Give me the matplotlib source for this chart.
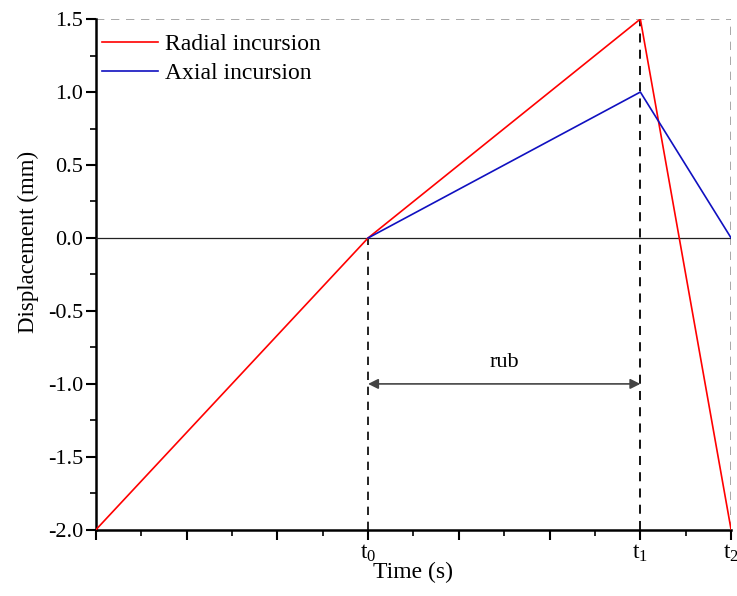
import matplotlib
matplotlib.use('Agg')
import matplotlib.pyplot as plt

plt.rcParams['font.family'] = ['Liberation Serif', 'DejaVu Serif']
plt.rcParams['mathtext.fontset'] = 'custom'
plt.rcParams['mathtext.rm'] = 'Liberation Serif'
plt.rcParams['mathtext.it'] = 'Liberation Serif:italic'

# time points (t0, t1, t2 on a 0..7 scale)
t0, t1, t2 = 3, 6, 7
radial_t = [0, t0, t1, t2]
radial_d = [-2.0, 0.0, 1.5, -2.0]
axial_t = [t0, t1, t2]
axial_d = [0.0, 1.0, 0.0]
tick_pos = [t0, t1, t2]
tick_labels = [r'$\mathrm{t}_0$', r'$\mathrm{t}_1$', r'$\mathrm{t}_2$']
yticks = [-2.0, -1.5, -1.0, -0.5, 0.0, 0.5, 1.0, 1.5]
ymin, ymax = -2.0, 1.5

fig = plt.figure(figsize=(7.37, 5.96), dpi=100)
ax = fig.add_axes([0.130, 0.111, 0.862, 0.857])

ax.plot(radial_t, radial_d, color='#ff0000', lw=1.2, label='Radial incursion', zorder=4)
ax.plot(axial_t, axial_d, color='#1010c0', lw=1.2, label='Axial incursion', zorder=4)

# zero line and guides
ax.plot([0, t2], [0, 0], color='#222222', lw=0.9, zorder=3)
ax.plot([t0, t0], [ymin, 0], color='black', lw=1.2, ls=(0, (5, 4)), zorder=2)
ax.plot([t1, t1], [ymin, ymax], color='black', lw=1.3, ls=(0, (5, 4)), zorder=2)
ax.plot([0, t2], [ymax, ymax], color='#999999', lw=1.2, ls=(0, (5, 4)), zorder=2)
ax.plot([t2, t2], [ymin, ymax], color='#999999', lw=1.2, ls=(0, (5, 4)), zorder=2)

# rub interval
ax.annotate('', xy=(t1, -1.0), xytext=(t0, -1.0),
            arrowprops=dict(arrowstyle='<|-|>', color='#444444', lw=1.2,
                            mutation_scale=15, shrinkA=0, shrinkB=0))
ax.text((t0 + t1) / 2, -0.85, 'rub', ha='center', va='center', fontsize=16)

ax.set_xlim(0, t2)
ax.set_ylim(ymin, ymax)
ax.set_xticks(range(0, t2 + 1))
ax.set_xticklabels(['' if i not in tick_pos else tick_labels[tick_pos.index(i)]
                    for i in range(0, t2 + 1)], fontsize=17)
ax.set_xticks([i + 0.5 for i in range(t2)], minor=True)
ax.set_yticks(yticks)
ax.set_yticklabels(['%.1f' % v for v in yticks], fontsize=16)
ax.set_yticks([v + 0.25 for v in yticks[:-1]], minor=True)
ax.tick_params(which='major', direction='out', length=7, width=1.5)
ax.tick_params(which='minor', direction='out', length=4, width=1.2)
ax.tick_params(axis='x', pad=2)
ax.tick_params(axis='y', pad=2)

for side in ['top', 'right']:
    ax.spines[side].set_visible(False)
for side in ['left', 'bottom']:
    ax.spines[side].set_linewidth(1.8)

ax.set_xlabel('Time (s)', fontsize=17)
ax.xaxis.set_label_coords(0.5, -0.062)
ax.set_ylabel('Displacement (mm)', fontsize=16.5)
ax.yaxis.set_label_coords(-0.09, 0.564)

ax.legend(loc='upper left', bbox_to_anchor=(-0.002, 0.985), frameon=False, fontsize=17,
          handlelength=2.4, borderpad=0.1, borderaxespad=0.2,
          handletextpad=0.3, labelspacing=0.3)

plt.savefig('out.png', dpi=100)
